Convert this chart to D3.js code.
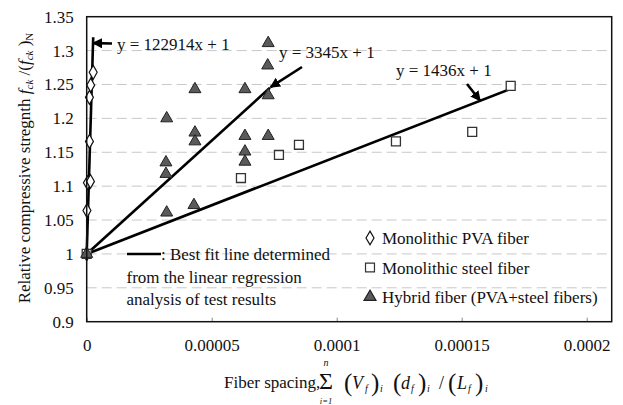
<!DOCTYPE html>
<html>
<head>
<meta charset="utf-8">
<script src="https://cdn.jsdelivr.net/npm/d3@7"></script>
<style>
  html, body { margin: 0; padding: 0; background: #fff; }
</style>
</head>
<body>
<svg id="chart" width="623" height="405" font-family="Liberation Serif"></svg>
<script>
// Monolithic PVA fiber specimens
const pvaX = [0, 0.0000001, 0.0000003, 0.0000015, 0.0000011, 0.0000011, 0.0000016, 0.0000026];
const pvaY = [1.0, 1.064, 1.105, 1.107, 1.166, 1.231, 1.249, 1.268];

// Monolithic steel fiber specimens
const steelX = [0, 0.0000617, 0.0000769, 0.0000849, 0.0001237, 0.0001542, 0.0001696];
const steelY = [1.0, 1.112, 1.146, 1.161, 1.166, 1.180, 1.248];

// Hybrid fiber (PVA + steel) specimens
const hybridX = [0, 0.0000320, 0.0000317, 0.0000317, 0.0000320, 0.0000433, 0.0000433, 0.0000433, 0.0000429,
                 0.0000633, 0.0000633, 0.0000633, 0.0000633, 0.0000726, 0.0000724, 0.0000726, 0.0000726];
const hybridY = [1.0, 1.200, 1.135, 1.118, 1.061, 1.243, 1.179, 1.166, 1.072,
                 1.243, 1.174, 1.151, 1.136, 1.311, 1.278, 1.234, 1.174];

// Best-fit lines y = a·x + 1 and the x where each drawn line stops
const fitSlopes = [122914, 3345, 1436];
const fitEnds = [0.0000026, 0.0000733, 0.000170];
const fitLabels = ["y = 122914x + 1", "y = 3345x + 1", "y = 1436x + 1"];

const xTicks = [0, 0.00005, 0.0001, 0.00015, 0.0002];
const xTickLabels = ["0", "0.00005", "0.0001", "0.00015", "0.0002"];
const yTicks = [0.9, 0.95, 1.0, 1.05, 1.1, 1.15, 1.2, 1.25, 1.3, 1.35];
const yTickLabels = ["0.9", "0.95", "1", "1.05", "1.1", "1.15", "1.2", "1.25", "1.3", "1.35"];

const legendNames = ["Monolithic PVA fiber", "Monolithic steel fiber", "Hybrid fiber (PVA+steel fibers)"];

const FONT = "Liberation Serif";
const svg = d3.select("#chart");
const L = 86.7, R = 611.7, T = 16.7, B = 321.7;
const x = d3.scaleLinear().domain([0, 0.00021]).range([L, R]);
const y = d3.scaleLinear().domain([0.9, 1.35]).range([B, T]);

// horizontal dashed gridlines
svg.append("g").selectAll("line")
  .data(yTicks.filter(v => v > 0.9 && v < 1.35))
  .join("line")
  .attr("x1", L).attr("x2", R)
  .attr("y1", d => y(d)).attr("y2", d => y(d))
  .attr("stroke", "#c8c8c8").attr("stroke-width", 1)
  .attr("stroke-dasharray", "10,5");

// bottom axis: inner ticks and labels
const xAxis = d3.axisBottom(x).tickValues(xTicks)
  .tickFormat((d, i) => xTickLabels[i]).tickSizeInner(-4).tickSizeOuter(0).tickPadding(17);
const gx = svg.append("g").attr("transform", `translate(0,${B})`).call(xAxis)
  .attr("font-family", FONT).attr("font-size", 17);
gx.select(".domain").remove();
gx.selectAll(".tick line").attr("stroke", "#888");
gx.selectAll(".tick text").attr("fill", "#111");

// left axis labels
const yAxis = d3.axisLeft(y).tickValues(yTicks)
  .tickFormat((d, i) => yTickLabels[i]).tickSize(0).tickPadding(13);
const gy = svg.append("g").attr("transform", `translate(${L},0)`).call(yAxis)
  .attr("font-family", FONT).attr("font-size", 17);
gy.select(".domain").remove();
gy.selectAll(".tick text").attr("fill", "#111");

// best-fit lines
const fitLine = d3.line().x(d => x(d[0])).y(d => y(d[1]));
fitSlopes.forEach((a, i) => {
  svg.append("path")
    .attr("d", fitLine([[0, 1], [fitEnds[i], a * fitEnds[i] + 1]]))
    .attr("stroke", "#000").attr("stroke-width", 2.6).attr("fill", "none");
});

// markers
const symDiamond = d3.symbol().type(d3.symbolDiamond).size(55);
const symSquare = d3.symbol().type(d3.symbolSquare).size(80);
const symTriangle = d3.symbol().type(d3.symbolTriangle).size(62);

function drawSeries(xs, ys, sym, fill, stroke, sw) {
  svg.append("g").selectAll("path")
    .data(xs.map((v, i) => [v, ys[i]]))
    .join("path")
    .attr("transform", d => `translate(${x(d[0])},${y(d[1])})`)
    .attr("d", sym)
    .attr("fill", fill).attr("stroke", stroke).attr("stroke-width", sw);
}
drawSeries(pvaX, pvaY, symDiamond, "#fff", "#111", 1.2);
drawSeries(steelX, steelY, symSquare, "#fff", "#333", 1.3);
drawSeries(hybridX, hybridY, symTriangle, "#5a5a5a", "#222", 1);

// plot frame
svg.append("rect").attr("x", L).attr("y", T).attr("width", R - L).attr("height", B - T)
  .attr("fill", "none").attr("stroke", "#111").attr("stroke-width", 1.5);

// arrow heads
svg.append("defs").append("marker")
  .attr("id", "head").attr("viewBox", "0 0 10 10").attr("refX", 9).attr("refY", 5)
  .attr("markerWidth", 4).attr("markerHeight", 4).attr("orient", "auto")
  .attr("markerUnits", "strokeWidth")
  .append("path").attr("d", "M0,0 L10,5 L0,10 Z").attr("fill", "#000");

// all annotation text shares one style
function label(px, py, size) {
  return svg.append("text").attr("x", px).attr("y", py)
    .attr("font-family", FONT).attr("font-size", size).attr("fill", "#111");
}

// equation labels with arrows pointing at their fit lines
const tipY = [1.311, 1.246, 1.226];
const annot = [
  { tail: [112, 43.5], text: [117, 49.5] },
  { tail: [302, 67], text: [279, 58] },
  { tail: [467, 84], text: [396, 75.5] }
];
fitSlopes.forEach((a, i) => {
  const tx = x((tipY[i] - 1) / a), ty = y(tipY[i]);
  svg.append("line")
    .attr("x1", annot[i].tail[0]).attr("y1", annot[i].tail[1])
    .attr("x2", tx).attr("y2", ty)
    .attr("stroke", "#000").attr("stroke-width", 2.6)
    .attr("marker-end", "url(#head)");
  label(annot[i].text[0], annot[i].text[1], 17).text(fitLabels[i]);
});

// note about the fit lines
svg.append("line").attr("x1", 127).attr("x2", 161).attr("y1", 254).attr("y2", 254)
  .attr("stroke", "#000").attr("stroke-width", 2.6);
const note = [": Best fit line determined", "from the linear regression", "analysis of test results"];
note.forEach((t, i) => {
  label(i === 0 ? 161 : 126.5, 260 + i * 22.5, 17).text(t);
});

// legend
const legSyms = [
  { sym: symDiamond, fill: "#fff", stroke: "#111" },
  { sym: symSquare, fill: "#fff", stroke: "#333" },
  { sym: symTriangle, fill: "#5a5a5a", stroke: "#222" }
];
legendNames.forEach((name, i) => {
  const cy = 238 + i * 29.5;
  svg.append("path").attr("transform", `translate(370,${cy})`).attr("d", legSyms[i].sym)
    .attr("fill", legSyms[i].fill).attr("stroke", legSyms[i].stroke).attr("stroke-width", 1.2);
  label(382, cy + 6, 17).text(name);
});

// y-axis title
const yt = svg.append("text")
  .attr("transform", "translate(30,168) rotate(-90)")
  .attr("text-anchor", "middle").attr("font-family", FONT).attr("font-size", 17).attr("fill", "#111");
yt.append("tspan").text("Relative compressive stregnth ");
yt.append("tspan").attr("font-style", "italic").text("f");
yt.append("tspan").attr("font-style", "italic").attr("font-size", 11).attr("dy", 3).text("ck");
yt.append("tspan").attr("dy", -3).text(" /(");
yt.append("tspan").attr("font-style", "italic").text("f");
yt.append("tspan").attr("font-style", "italic").attr("font-size", 11).attr("dy", 3).text("ck");
yt.append("tspan").attr("dy", -3).text(" )");
yt.append("tspan").attr("font-size", 11).attr("dy", 3).text("N");

// x-axis title with summation
label(224, 388, 17).text("Fiber spacing,");
label(326, 389, 24).attr("text-anchor", "middle").text("\u03A3");
label(326, 366, 10).attr("text-anchor", "middle").attr("font-style", "italic").text("n");
label(326, 403.5, 8.5).attr("text-anchor", "middle").attr("font-style", "italic").text("i=1");

// (V_f)_i (d_f)_i /(L_f)_i — glyphs placed along one baseline
const xt = label(0, 389, 18);
const base = 389;
function piece(px, txt, opts = {}) {
  const t = xt.append("tspan").attr("x", px).attr("y", base + (opts.dy || 0)).text(txt);
  if (opts.size) t.attr("font-size", opts.size);
  if (opts.italic) t.attr("font-style", "italic");
}
// [open paren, letter, subscript f, close paren, subscript i]
const groups = [
  ["V", [344, 352, 365, 371, 380]],
  ["d", [393, 401, 411, 418, 427]],
  ["L", [448, 457, 468, 475, 485]]
];
groups.forEach(([letter, p]) => {
  piece(p[0], "(", { size: 25, dy: 2 });
  piece(p[1], letter, { italic: true });
  piece(p[2], "f", { italic: true, size: 10, dy: 3 });
  piece(p[3], ")", { size: 25, dy: 2 });
  piece(p[4], "i", { italic: true, size: 10, dy: 3 });
});
piece(439, "/");
</script>
</body>
</html>
